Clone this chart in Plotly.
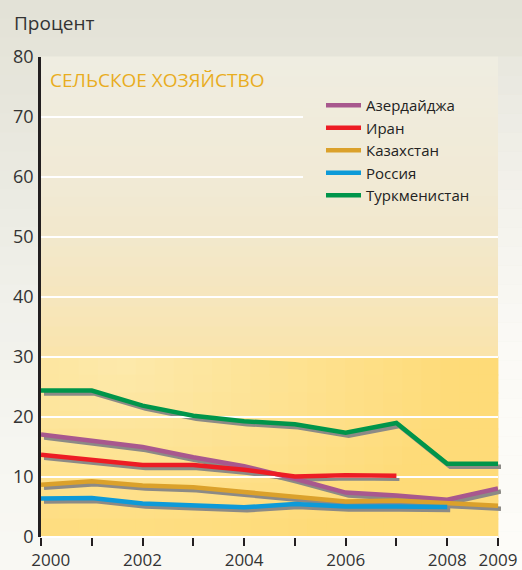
import plotly.graph_objects as go

# ---------------- data ----------------
years = list(range(2000, 2010))
names = ["Азердайджа", "Иран", "Казахстан", "Россия", "Туркменистан"]
azer = [17.1, 16.0, 15.0, 13.3, 11.8, 9.7, 7.4, 6.9, 6.2, 8.1]
iran = [13.7, 12.8, 12.0, 12.0, 11.2, 10.1, 10.3, 10.2, None, None]
kaz = [8.7, 9.3, 8.6, 8.3, 7.5, 6.7, 5.9, 6.1, 5.7, 5.2]
rus = [6.4, 6.5, 5.6, 5.3, 4.95, 5.5, 5.1, 5.1, 5.0, None]
turk = [24.4, 24.4, 21.9, 20.2, 19.3, 18.8, 17.4, 19.0, 12.2, 12.2]
series = [azer, iran, kaz, rus, turk]
colors = ["#a8588e", "#ed1c24", "#dba12b", "#0d9ad8", "#00954a"]
tick_years = years
tick_text = ["\u2007\u20072000", "", "2002", "", "2004", "", "2006", "", "2008", "2009"]
y_ticks = [0, 10, 20, 30, 40, 50, 60, 70, 80]

# ---------------- geometry (pixels) ----------------
W, H = 522, 570
L, T = 41, 57            # plot area left / top
PW, PH = 457, 480        # main plot size
DX, DY = 3, 3            # shadow offset
PAPW, PAPH = PW + DX, PH + DY
R = W - L - PAPW
B = H - T - PAPH
FONT = "Open Sans"


def px(x):
    return (x - L) / PAPW


def py(y):
    return (T + PAPH - y) / PAPH


def hex2rgb(h):
    h = h.lstrip("#")
    return [int(h[i:i + 2], 16) for i in (0, 2, 4)]


def lerp(c1, c2, t):
    a, b = hex2rgb(c1), hex2rgb(c2)
    return "rgb(%d,%d,%d)" % tuple(round(a[i] + (b[i] - a[i]) * t) for i in range(3))


def stops_color(stops, v):
    if v <= stops[0][0]:
        return lerp(stops[0][1], stops[0][1], 0)
    for (v0, c0), (v1, c1) in zip(stops, stops[1:]):
        if v0 <= v <= v1:
            return lerp(c0, c1, (v - v0) / (v1 - v0) if v1 != v0 else 0)
    return lerp(stops[-1][1], stops[-1][1], 0)


shapes = []


def rect(x0, y0, x1, y1, color, layer="below"):
    shapes.append(dict(type="rect", xref="paper", yref="paper",
                       x0=px(x0), x1=px(x1), y0=py(y1), y1=py(y0),
                       fillcolor=color, line=dict(width=0), layer=layer))


# page background (vertical gradient, lighter to the right of the plot)
page_stops = [(0, "#e3e2d6"), (150, "#e9e8df"), (300, "#f0f0ea"), (450, "#f6f6f1"), (570, "#f9f8f3")]
right_stops = [(57, "#e8e7de"), (200, "#f3f2ec"), (350, "#fbfaf6"), (570, "#fdfcf8")]
n = 30
for i in range(n):
    y0 = H * i / n
    y1 = H * (i + 1) / n
    rect(0, y0 - 0.5, W, y1 + 0.5, stops_color(page_stops, (y0 + y1) / 2))
    if y0 >= T - 1:
        rect(L + PW, y0 - 0.5, W, y1 + 0.5, stops_color(right_stops, (y0 + y1) / 2))

# plot area: upper band (30-80) vertical gradient
top_stops = [(T, "#efede1"), (T + 120, "#f1ead6"), (T + 180, "#f2e8cc"), (T + 240, "#f6e6bd"), (T + 300, "#fae4ab")]
band_top, band_bot = T, T + 300
n = 30
for i in range(n):
    y0 = band_top + (band_bot - band_top) * i / n
    y1 = band_top + (band_bot - band_top) * (i + 1) / n
    rect(L, y0 - 0.4, L + PW, y1 + 0.4, stops_color(top_stops, (y0 + y1) / 2))

# plot area: lower band (0-30) soft radial gradient
light, dark = "#fde9ab", "#fedb78"
nx, ny = 24, 10
for i in range(nx):
    for j in range(ny):
        x0 = L + PW * i / nx
        x1 = L + PW * (i + 1) / nx
        y0 = band_bot + (T + PH - band_bot) * j / ny
        y1 = band_bot + (T + PH - band_bot) * (j + 1) / ny
        cx, cy = (x0 + x1) / 2, (y0 + y1) / 2
        d = (((cx - 120) / 340) ** 2 + ((cy - 365) / 200) ** 2) ** 0.5
        rect(x0 - 0.4, y0 - 0.4, x1 + 0.4, y1 + 0.4, lerp(light, dark, min(d, 1)))

# legend panel covering the gridlines
n = 12
for i in range(n):
    y0 = 88 + (206 - 88) * i / n
    y1 = 88 + (206 - 88) * (i + 1) / n
    rect(303, y0 - 0.4, L + PW, y1 + 0.4, stops_color(top_stops, (y0 + y1) / 2), layer="above")

# ---------------- traces ----------------
fig = go.Figure()
for s in series:
    fig.add_trace(go.Scatter(x=years, y=s, mode="lines", xaxis="x", yaxis="y",
                             line=dict(color="#8c8a86", width=4.5), showlegend=False,
                             hoverinfo="skip"))
for name, s, c in zip(names, series, colors):
    fig.add_trace(go.Scatter(x=years, y=s, mode="lines", name=name, xaxis="x2", yaxis="y2",
                             line=dict(color=c, width=4.5)))

fig.update_layout(
    width=W, height=H,
    margin=dict(l=L, r=R, t=T, b=B),
    paper_bgcolor="#efeee6",
    plot_bgcolor="rgba(0,0,0,0)",
    font=dict(family=FONT, color="#333333"),
    shapes=shapes,
    xaxis=dict(domain=[DX / PAPW, 1], range=[2000, 2009], visible=False, fixedrange=True),
    yaxis=dict(domain=[0, PH / PAPH], range=[0, 80], visible=False, fixedrange=True),
    xaxis2=dict(domain=[0, PW / PAPW], range=[2000, 2009], anchor="y2",
                tickmode="array", tickvals=tick_years, ticktext=tick_text,
                ticks="outside", ticklen=8, tickwidth=2, tickcolor="#231f20",
                showgrid=False, zeroline=False, showline=False,
                tickfont=dict(size=17, color="#333333"), automargin=False),
    yaxis2=dict(domain=[DY / PAPH, 1], range=[0, 80], anchor="x2",
                tickmode="array", tickvals=y_ticks,
                showgrid=True, gridcolor="#ffffff", gridwidth=2,
                zeroline=True, zerolinecolor="#ffffff", zerolinewidth=2,
                showline=True, linecolor="#231f20", linewidth=2.5,
                ticks="", ticklabelstandoff=1,
                tickfont=dict(size=18, color="#333333"), automargin=False),
    legend=dict(x=px(321), y=py(89), xanchor="left", yanchor="top",
                bgcolor="rgba(0,0,0,0)", font=dict(size=15, color="#222222", family=FONT),
                tracegroupgap=0, itemwidth=35),
    annotations=[
        dict(text="Процент", xref="paper", yref="paper", x=px(12), y=py(23),
             xanchor="left", yanchor="middle", showarrow=False,
             font=dict(size=19, color="#333333", family=FONT)),
        dict(text="СЕЛЬСКОЕ ХОЗЯЙСТВО", xref="paper", yref="paper", x=px(48), y=py(80),
             xanchor="left", yanchor="middle", showarrow=False,
             font=dict(size=19, color="#e9ad1e", family=FONT)),
    ],
)

fig.write_html("out.html", config={"displayModeBar": False},
               post_script="document.body.style.margin='0';document.body.style.background='#e6e5da';")
